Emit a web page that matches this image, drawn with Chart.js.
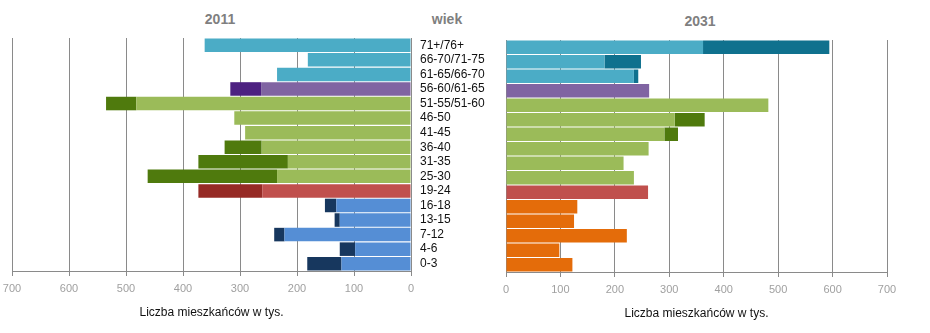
<!DOCTYPE html>
<html>
<head>
<meta charset="utf-8">
<script src="https://cdn.jsdelivr.net/npm/chart.js@4/dist/chart.umd.min.js"></script>
<style>
body { margin:0; background:#fff; font-family:Arial, "Liberation Sans", sans-serif; }
#wrap { position:relative; width:930px; height:333px; overflow:hidden; }
canvas { position:absolute; top:0; }
.head { position:absolute; top:11px; font-size:14px; font-weight:bold; color:#7f7f7f; text-align:center; width:100px; }
</style>
</head>
<body>
<div id="wrap">
	<div class="head" style="left:170px">2011</div>
	<div class="head" style="left:397px">wiek</div>
	<div class="head" style="left:650px;top:13px">2031</div>
	<canvas id="chart2011" width="500" height="333" style="left:0"></canvas>
	<canvas id="chart2031" width="440" height="333" style="left:490px"></canvas>
</div>
<script>
// grupy wieku (2011 / 2031)
var ageGroups = ['71+/76+', '66-70/71-75', '61-65/66-70', '56-60/61-65', '51-55/51-60', '46-50', '41-45', '36-40',
	'31-35', '25-30', '19-24', '16-18', '13-15', '7-12', '4-6', '0-3'];
// wspolna czesc obu lat (tys.)
var shared = [362, 181, 235, 263, 482, 310, 291, 262, 216, 235, 261, 131, 125, 222, 98, 122];
// nadwyzka w 2011
var extra2011 = [0, 0, 0, 54, 53, 0, 0, 65, 157, 227, 112, 20, 9, 18, 27, 60];
// nadwyzka w 2031
var extra2031 = [232, 67, 8, 0, 0, 55, 25, 0, 0, 0, 0, 0, 0, 0, 0, 0];
var axisTicks = [0, 100, 200, 300, 400, 500, 600, 700];

var teal = '#4bacc6', purple = '#8064a2', green = '#9bbb59', red = '#c0504d', blue = '#558ed5', orange = '#e46c0a';
var light2011 = [teal, teal, teal, purple, green, green, green, green, green, green, red, blue, blue, blue, blue, blue];
var dark2011 = ['#13728f', '#13728f', '#13728f', '#4d2181', '#4f7a0d', '#4f7a0d', '#4f7a0d', '#4f7a0d', '#4f7a0d', '#4f7a0d',
	'#962a25', '#17375e', '#17375e', '#17375e', '#17375e', '#17375e'];
var light2031 = [teal, teal, teal, purple, green, green, green, green, green, green, red, orange, orange, orange, orange, orange];
var dark2031 = ['#0f718e', '#0f718e', '#0f718e', '#4d2181', '#4f7a0d', '#4f7a0d', '#4f7a0d', '#4f7a0d', '#4f7a0d', '#4f7a0d',
	'#962a25', '#a84c05', '#a84c05', '#a84c05', '#a84c05', '#a84c05'];

Chart.defaults.font.family = 'Arial, "Liberation Sans", sans-serif';
Chart.defaults.animation = false;

function xScale(reverse) {
	return {
		type: 'linear',
		stacked: true,
		reverse: reverse,
		min: 0,
		max: 700,
		afterBuildTicks: function (scale) {
			scale.ticks = axisTicks.map(function (v) { return { value: v }; });
		},
		afterFit: function (scale) { scale.height = 52; },
		ticks: { color: '#a0a0a0', font: { size: 11 }, padding: 6 },
		grid: { color: '#8a8a8a', tickLength: 5, tickColor: '#8a8a8a' },
		border: { color: '#8a8a8a' },
		title: {
			display: true,
			text: 'Liczba mieszkańców w tys.',
			color: '#111',
			font: { size: 12 },
			padding: { top: 0, bottom: 3 }
		}
	};
}

var barOpts = { barPercentage: 0.93, categoryPercentage: 1, borderWidth: 0 };

var ctx2011 = document.getElementById('chart2011').getContext('2d');
var chart2011 = new Chart(ctx2011, {
	type: 'bar',
	data: {
		labels: ageGroups,
		datasets: [
			Object.assign({ label: '2011', data: shared, backgroundColor: light2011 }, barOpts),
			Object.assign({ label: '2011 nadwyżka', data: extra2011, backgroundColor: dark2011 }, barOpts)
		]
	},
	options: {
		responsive: false,
		indexAxis: 'y',
		layout: { padding: { left: 12, right: 0, top: 38, bottom: 10 } },
		plugins: { legend: { display: false }, tooltip: { enabled: false } },
		scales: {
			x: xScale(true),
			y: {
				stacked: true,
				position: 'right',
				afterFit: function (scale) { scale.width = 89; },
				grid: { display: false, drawTicks: false },
				border: { display: false },
				ticks: { color: '#111', font: { size: 12 }, padding: 9, autoSkip: false }
			}
		}
	}
});

var ctx2031 = document.getElementById('chart2031').getContext('2d');
var chart2031 = new Chart(ctx2031, {
	type: 'bar',
	data: {
		labels: ageGroups,
		datasets: [
			Object.assign({ label: '2031', data: shared, backgroundColor: light2031 }, barOpts),
			Object.assign({ label: '2031 nadwyżka', data: extra2031, backgroundColor: dark2031 }, barOpts)
		]
	},
	options: {
		responsive: false,
		indexAxis: 'y',
		layout: { padding: { left: 16, right: 43, top: 40, bottom: 9 } },
		plugins: { legend: { display: false }, tooltip: { enabled: false } },
		scales: {
			x: xScale(false),
			y: { stacked: true, display: false }
		}
	}
});
</script>
</body>
</html>
